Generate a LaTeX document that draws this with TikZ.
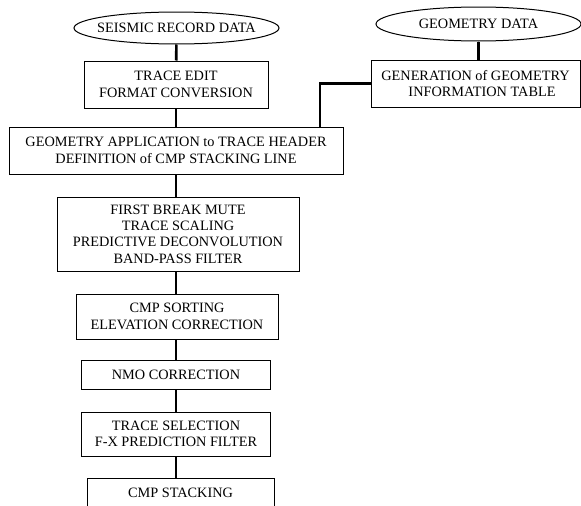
\documentclass[tikz,border=0pt]{standalone}
\usepackage{fontspec}
\setmainfont{Liberation Serif}
\usetikzlibrary{shapes.geometric}

\begin{document}
\begin{tikzpicture}[x=1pt, y=-1pt,
    every node/.style={font=\fontsize{14.3pt}{16.4pt}\selectfont, align=center, inner sep=0pt},
    datum/.style={draw, ellipse, line width=1pt, minimum width=205pt},
    proc/.style={draw, rectangle, line width=1pt},
    link/.style={line width=2.6pt}]

      \useasboundingbox (0, 0) rectangle (581, 506);

      \node[datum, minimum height=32pt] (seis) at (176.5, 28) {};
      \node (seistext) at (seis) {SEISMIC RECORD DATA};
      \node[datum, minimum height=34pt] (geo) at (478.5, 24) {};
      \node (geotext) at (geo) {GEOMETRY DATA};

      \node[proc, minimum width=184pt, minimum height=47pt] (edit) at (176, 84.5)
        {TRACE EDIT\\FORMAT CONVERSION};
      \node[proc, minimum width=209pt, minimum height=47pt] (gen) at (475.5, 83.5)
        {GENERATION of GEOMETRY\\\hspace*{13pt}INFORMATION TABLE};
      \node[proc, minimum width=334pt, minimum height=47pt] (apply) at (176, 150.5)
        {GEOMETRY APPLICATION to TRACE HEADER\\DEFINITION of CMP STACKING LINE};
      \node[proc, minimum width=242pt, minimum height=74pt] (fb) at (178, 234)
        {FIRST BREAK MUTE\\TRACE SCALING\\PREDICTIVE DECONVOLUTION\\BAND-PASS FILTER};
      \node[proc, minimum width=202pt, minimum height=45pt] (sort) at (177, 316.5)
        {CMP SORTING\\ELEVATION CORRECTION};
      \node[proc, minimum width=189pt, minimum height=29pt] (nmo) at (176, 374.5)
        {NMO CORRECTION};
      \node[proc, minimum width=189pt, minimum height=44pt] (tsel) at (176, 434)
        {TRACE SELECTION\\F-X PREDICTION FILTER};
      \node[proc, minimum width=187pt, minimum height=29pt] (stack) at (180.5, 492.5)
        {CMP STACKING};

      \coordinate (tap) at (320, 0);

      \path[link]
      (seis) edge (edit)
      (edit) edge (apply)
      (apply.south) edge (apply.south |- fb.north)
      (apply.south |- fb.south) edge (apply.south |- sort.north)
      (sort.south -| nmo.north) edge (nmo)
      (nmo) edge (tsel)
      (tsel.south) edge (tsel.south |- stack.north)

      (geo.south) edge (geo.south |- gen.north);

      \draw[link] (gen.west) -| (tap |- apply.north);
    \end{tikzpicture}
\end{document}
